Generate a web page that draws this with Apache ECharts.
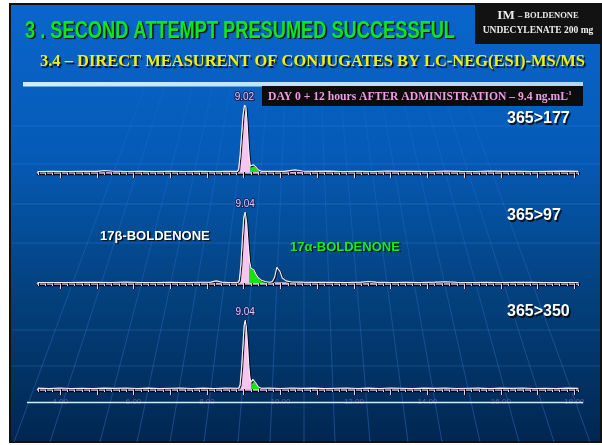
<!DOCTYPE html>
<html>
<head>
<meta charset="utf-8">
<script src="https://cdn.jsdelivr.net/npm/echarts@6/dist/echarts.min.js"></script>
<style>
  html, body { margin: 0; background: #fff; }
  #main { width: 602px; height: 445px; }
</style>
</head>
<body>
<div id="main"></div>
<script>
// retention time (min) / relative intensity (%)
const times1 = [3.4, 3.8, 4.2, 4.6, 5.0, 5.2, 5.4, 5.8, 6.2, 6.6, 7.0, 7.4, 7.8, 8.2, 8.5, 8.82,
  8.86, 8.9, 8.94, 8.98, 9.02, 9.06, 9.09, 9.12, 9.15, 9.18, 9.22, 9.26, 9.29, 9.34, 9.4, 9.48,
  9.8, 10.1, 10.4, 10.6, 10.9, 11.3, 11.7, 12.1, 12.5, 12.9, 13.3, 13.7, 14.1, 14.5,
  14.9, 15.3, 15.7, 16.1, 16.5, 16.9, 17.3, 17.7, 18.1];
const trace1 = [0.8, 1.0, 0.6, 1.2, 1.0, 2.2, 1.5, 0.8, 1.0, 0.5, 1.2, 0.8, 1.1, 0.6, 0.9, 1,
  4, 25, 55, 85, 100, 97, 75, 45, 22, 9, 8, 11, 11, 7, 3, 1,
  1.2, 0.9, 3.2, 1.5, 0.9, 1.3, 0.7, 1.1, 0.6, 1.4, 0.9, 1.2, 0.7, 1.5,
  1.0, 0.8, 1.6, 0.9, 1.2, 0.7, 1.0, 1.3, 0.9];

const times2 = [3.4, 3.8, 4.2, 4.6, 5.0, 5.4, 5.8, 6.2, 6.6, 7.0, 7.4, 7.8, 8.1, 8.25, 8.4, 8.6, 8.84,
  8.88, 8.92, 8.96, 9.0, 9.04, 9.08, 9.12, 9.16, 9.2, 9.24, 9.28, 9.34, 9.4, 9.48, 9.58, 9.7,
  9.78, 9.84, 9.9, 9.94, 9.99, 10.05, 10.15, 10.3, 10.6, 11.0, 11.4, 11.8, 12.2, 12.4, 12.6,
  13.0, 13.4, 13.8, 14.2, 14.5, 14.8, 15.2, 15.6, 16.0, 16.4, 16.8, 17.2, 17.6, 18.1];
const trace2 = [0.5, 0.8, 0.6, 0.9, 1.0, 0.7, 1.5, 0.8, 0.6, 0.9, 0.7, 1.0, 1.2, 3.0, 1.2, 0.8, 1,
  4, 25, 60, 92, 100, 85, 55, 30, 21, 21, 18, 12, 7, 4, 2, 1,
  2, 8, 22, 24, 16, 7, 3, 1.5, 1.2, 0.9, 1.1, 0.8, 1.2, 2.2, 1.2,
  0.8, 1.0, 0.7, 1.2, 1.8, 1.1, 0.8, 1.0, 0.7, 0.9, 1.0, 0.8, 0.6, 0.7];

const times3 = [3.4, 3.7, 4.0, 4.3, 4.6, 4.9, 5.2, 5.5, 5.8, 6.1, 6.4, 6.7, 7.0, 7.3, 7.6, 7.9, 8.2, 8.5, 8.86,
  8.9, 8.94, 8.98, 9.01, 9.04, 9.07, 9.11, 9.14, 9.17, 9.2, 9.25, 9.29, 9.34, 9.4, 9.48,
  9.7, 10.0, 10.3, 10.6, 10.9, 11.2, 11.5, 11.8, 12.1, 12.4, 12.7, 13.0, 13.3, 13.6, 13.9,
  14.2, 14.5, 14.8, 15.1, 15.4, 15.7, 16.0, 16.3, 16.6, 16.9, 17.2, 17.5, 17.8, 18.1];
const trace3 = [1.2, 0.6, 1.4, 0.8, 1.1, 0.5, 1.3, 0.9, 1.5, 0.7, 1.2, 0.6, 1.0, 1.4, 0.8, 1.2, 0.7, 1.3, 1,
  6, 30, 65, 92, 100, 90, 60, 32, 16, 10, 14, 13, 8, 3, 1,
  1.2, 0.7, 1.4, 0.9, 1.3, 0.6, 1.1, 1.5, 0.8, 1.2, 0.7, 1.4, 1.0, 0.6, 1.3,
  0.9, 1.5, 0.7, 1.1, 1.3, 0.6, 1.2, 0.9, 1.4, 0.7, 1.1, 0.8, 1.3, 0.9];

const transitions = ['365>177', '365>97', '365>350'];
const pinkWin = [[8.8, 9.18], [8.8, 9.16], [8.8, 9.2]];    // 17β integration
const greenWin = [[9.18, 9.48], [9.16, 9.7], [9.2, 9.48]]; // 17α integration
const tickLabels = [4, 6, 8, 10, 12, 14, 16, 18];
const tMin = 3.4, tMax = 18.1;

const traces = [[times1, trace1], [times2, trace2], [times3, trace3]];

// layout of the slide (pixels)
const PX = 36.735, X0 = 38;
const panels = [
  { top: 105, base: 172, off: 7, mrmY: 119 },
  { top: 212, base: 283, off: 2.5, mrmY: 216 },
  { top: 320, base: 389, off: 2.5, mrmY: 312 }
];

const ctx = document.createElement('canvas').getContext('2d');
const fit = (text, font, w) => { ctx.font = font; return w / ctx.measureText(text).width; };

const chart = echarts.init(document.getElementById('main'));

const grid = [], xAxis = [], yAxis = [], series = [];
const tickStyle = { color: '#e6cbee', width: 1, shadowColor: 'rgba(0,0,0,0.9)', shadowOffsetX: 1 };

panels.forEach((p, i) => {
  const h = p.base - p.top;
  grid.push({ left: X0, width: (tMax - tMin) * PX, top: p.top, height: h });
  grid.push({ left: X0 + (4 - tMin) * PX, width: 14 * PX, top: p.top, height: h });
  xAxis.push({
    gridIndex: 2 * i, type: 'value', min: tMin, max: tMax, interval: 0.2, offset: p.off,
    axisLine: { lineStyle: { color: '#d6b6e0', width: 2.5, shadowColor: 'rgba(0,0,0,0.85)', shadowOffsetY: 1.5 } },
    axisTick: { length: 3, lineStyle: tickStyle },
    axisLabel: { show: false }, splitLine: { show: false }
  });
  xAxis.push({
    gridIndex: 2 * i + 1, type: 'value', min: 4, max: 18, interval: 1, offset: p.off,
    axisLine: { show: false },
    axisTick: { length: 6, lineStyle: tickStyle },
    axisLabel: {
      show: i === 2, margin: 6, fontSize: 8, color: '#5c5ca6', fontFamily: 'Liberation Sans',
      formatter: v => tickLabels.includes(v) ? v.toFixed(2) : ''
    },
    splitLine: { show: false }
  });
  yAxis.push({ gridIndex: 2 * i, min: 0, max: 100, show: false });
  yAxis.push({ gridIndex: 2 * i + 1, min: 0, max: 100, show: false });

  const [t, v] = traces[i];
  const pts = t.map((x, k) => [x, v[k]]);
  const apex = Math.max(...v);
  const inWin = w => pts.filter(d => d[0] >= w[0] - 1e-9 && d[0] <= w[1] + 1e-9);
  const area = (w, color) => ({
    type: 'line', xAxisIndex: 2 * i, yAxisIndex: 2 * i, data: inWin(w), symbol: 'none',
    lineStyle: { width: 0 }, areaStyle: { color: color, opacity: 1 }, z: 2, silent: true
  });
  series.push(area(pinkWin[i], '#f7c6ef'));
  series.push(area(greenWin[i], '#14e414'));
  series.push({
    type: 'line', xAxisIndex: 2 * i, yAxisIndex: 2 * i, z: 3, symbol: 'circle', symbolSize: 1,
    itemStyle: { color: 'rgba(0,0,0,0)' },
    lineStyle: { color: '#f6ecf6', width: 1.1, shadowColor: 'rgba(0,0,0,0.9)', shadowOffsetX: 1, shadowOffsetY: 1 },
    data: pts.map(d => d[1] === apex ? {
      value: d,
      label: {
        show: true, position: 'top', distance: 2, formatter: q => q.value[0].toFixed(2),
        color: '#dccaf2', fontSize: 10, fontFamily: 'Liberation Sans',
        textBorderColor: '#1b2360', textBorderWidth: 2
      }
    } : d)
  });
});

// background decoration: perspective fan + faint horizontals
const deco = [];
[14, 50, 100, 137, 170, 204, 238, 270, 304, 335, 370, 408, 442, 480, 519, 554, 590].forEach(xb => {
  deco.push({
    type: 'line', z: -5, silent: true,
    shape: { x1: xb, y1: 442, x2: 304 + (xb - 304) * 0.55, y2: 88 },
    style: {
      lineWidth: 1,
      stroke: { type: 'linear', x: 0, y: 0, x2: 0, y2: 1,
        colorStops: [{ offset: 0, color: 'rgba(80,150,255,0.08)' }, { offset: 1, color: 'rgba(70,140,255,0.35)' }] }
    }
  });
});
[126, 164, 204, 243, 330, 366].forEach(yy => {
  deco.push({
    type: 'line', z: -5, silent: true,
    shape: { x1: 12, y1: yy, x2: 600, y2: yy },
    style: { stroke: 'rgba(90,160,255,0.22)', lineWidth: 1 }
  });
});

const shadow = { textShadowColor: 'rgba(0,0,0,0.85)', textShadowOffsetX: 1.5, textShadowOffsetY: 1.5, textShadowBlur: 1 };
const txt = (x, y, text, font, fill, align, extra) => ({
  type: 'text', x: x, y: y, z: 20, silent: true, ...(extra || {}),
  style: Object.assign({ text: text, font: font, fill: fill, align: align || 'left', textAlign: align || 'left',
    verticalAlign: 'middle', textVerticalAlign: 'middle' }, shadow)
});

const titleFont = 'bold 24px "Liberation Sans"';
const titleText = '3 . SECOND ATTEMPT PRESUMED SUCCESSFUL';
const subFont = 'bold 17px "Liberation Serif"';
const subText = '3.4 \u2013 DIRECT MEASURENT OF CONJUGATES BY LC-NEG(ESI)-MS/MS';
const dayFont = 'bold 12px "Liberation Serif"';
const dayText = 'DAY 0 + 12 hours AFTER ADMINISTRATION \u2013 9.4 ng.mL';

const graphic = [
  { type: 'rect', z: -10, silent: true, shape: { x: 10, y: 4, width: 591, height: 438 },
    style: { stroke: '#111', lineWidth: 2,
      fill: { type: 'linear', x: 0, y: 0, x2: 0, y2: 1,
        colorStops: [{ offset: 0, color: '#0a66cc' }, { offset: 0.35, color: '#055ab6' },
          { offset: 0.65, color: '#03427f' }, { offset: 1, color: '#012650' }] } } },
  ...deco,
  txt(25, 31, titleText, titleFont, '#14e414', 'left', { scaleX: fit(titleText, titleFont, 430) }),
  { type: 'rect', z: 15, silent: true, shape: { x: 475, y: 5, width: 126, height: 39 }, style: { fill: '#121212' } },
  { type: 'text', x: 538, y: 16, z: 20, silent: true,
    style: { text: '{a|IM} {b|\u2013 BOLDENONE}', align: 'center', textAlign: 'center', verticalAlign: 'middle', textVerticalAlign: 'middle',
      fill: '#ececec', rich: { a: { font: 'bold 13px "Liberation Serif"', fill: '#ececec', color: '#ececec' },
        b: { font: 'bold 8.5px "Liberation Serif"', fill: '#ececec', color: '#ececec' } } } },
  { type: 'text', x: 538, y: 31, z: 20, silent: true,
    style: { text: 'UNDECYLENATE 200 mg', font: 'bold 9.5px "Liberation Serif"', fill: '#ececec',
      align: 'center', textAlign: 'center', verticalAlign: 'middle', textVerticalAlign: 'middle' } },
  txt(40, 62, subText, subFont, '#f2f000', 'left', { scaleX: fit(subText, subFont, 545) }),
  { type: 'rect', z: 15, silent: true, shape: { x: 23, y: 82, width: 560, height: 4.5 },
    style: { fill: { type: 'linear', x: 0, y: 0, x2: 1, y2: 0,
      colorStops: [{ offset: 0, color: '#d2ecff' }, { offset: 1, color: '#b0d8fa' }] } } },
  { type: 'rect', z: 15, silent: true, shape: { x: 262, y: 86, width: 321, height: 20 }, style: { fill: '#0c0c0c' } },
  { type: 'text', x: 268, y: 97, z: 20, silent: true, scaleX: fit(dayText, dayFont, 300),
    style: { text: dayText, font: dayFont, fill: '#f29ae6', align: 'left', textAlign: 'left',
      verticalAlign: 'middle', textVerticalAlign: 'middle' } },
  { type: 'text', x: 566, y: 93, z: 20, silent: true,
    style: { text: '-1', font: 'bold 7px "Liberation Serif"', fill: '#f29ae6', align: 'left', textAlign: 'left',
      verticalAlign: 'middle', textVerticalAlign: 'middle' } },
  ...panels.map((p, i) => txt(507, p.mrmY, transitions[i], 'bold 16px "Liberation Sans"', '#ffffff')),
  txt(100, 236, '17\u03b2-BOLDENONE', 'bold 13px "Liberation Sans"', '#ffffff'),
  txt(290, 247, '17\u03b1-BOLDENONE', 'bold 13px "Liberation Sans"', '#16ee16'),
  { type: 'line', z: 20, silent: true, shape: { x1: 27, y1: 402.5, x2: 583, y2: 402.5 },
    style: { stroke: '#d4ecff', lineWidth: 1.5 } }
];

chart.setOption({
  animation: false,
  grid: grid,
  xAxis: xAxis,
  yAxis: yAxis,
  series: series,
  graphic: graphic
});
</script>
</body>
</html>
